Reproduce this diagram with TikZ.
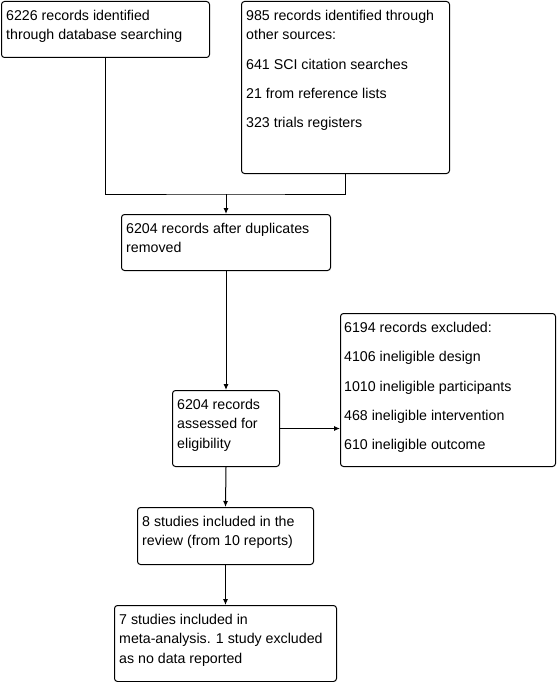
\documentclass[tikz,border=0pt]{standalone}
\usepackage{fontspec}
\setmainfont{Liberation Sans}
\usetikzlibrary{arrows.meta,calc}
\tikzset{
  box/.style={draw, line width=1pt, rounded corners=3pt, anchor=north west, inner sep=0pt},
  txt/.style={anchor=north west, inner sep=0pt, align=left, font=\fontsize{14.2}{19.3}\selectfont},
  conn/.style={line width=1pt},
  arr/.style={line width=1pt, -{Latex[length=6pt,width=5pt]}},
}
\newcommand{\mkbox}[5]{%
  \node[box, minimum width=#4-#2, minimum height=#5-#3] (#1) at (#2,#3) {};}
\begin{document}
\begin{tikzpicture}[x=1pt,y=-1pt]
\useasboundingbox (0,0) rectangle (557,682);
% boxes
\mkbox{b1}{1}{1}{209}{57}
\mkbox{b2}{241}{1}{449}{173}
\mkbox{b3}{121}{214}{330}{270}
\mkbox{b4}{172}{390}{279}{466}
\mkbox{b5}{340}{313}{555}{466}
\mkbox{b6}{137}{507}{313}{564}
\mkbox{b7}{114}{605}{336}{681}
% texts
\node[txt] (t1) at ($(b1.north west)+(5,9)$) {6226 records identified\\through database searching};
\node[txt] (t2) at ($(b2.north west)+(5,9)$) {985 records identified through\\other sources:\\[10pt]641 SCI citation searches\\[10pt]21 from reference lists\\[10pt]323 trials registers};
\node[txt] (t3) at ($(b3.north west)+(5,9)$) {6204 records after duplicates\\removed};
\node[txt] (t4) at ($(b4.north west)+(5,9)$) {6204 records\\assessed for\\eligibility};
\node[txt] (t5) at ($(b5.north west)+(4,9)$) {6194 records excluded:\\[10pt]4106 ineligible design\\[10pt]1010 ineligible participants\\[10pt]468 ineligible intervention\\[10pt]610 ineligible outcome};
\node[txt] (t6) at ($(b6.north west)+(5,9)$) {8 studies included in the\\review (from 10 reports)};
\node[txt] (t7) at ($(b7.north west)+(5,9)$) {7 studies included in\\meta-analysis. 1 study excluded\\as no data reported};
% connectors
\coordinate (j) at (226,194);
\draw[conn] (b1.south) |- (j) -| (b2.south);
\draw[arr] (j) -- (j |- b3.north);
\draw[arr] (b3.south) -- (b4.north);
\draw[arr] (b4.east) -- (b4.east -| b5.west);
\draw[arr] (b4.south) -- (b6.north);
\draw[arr] (b6.south) -- (b7.north);
\end{tikzpicture}
\end{document}
